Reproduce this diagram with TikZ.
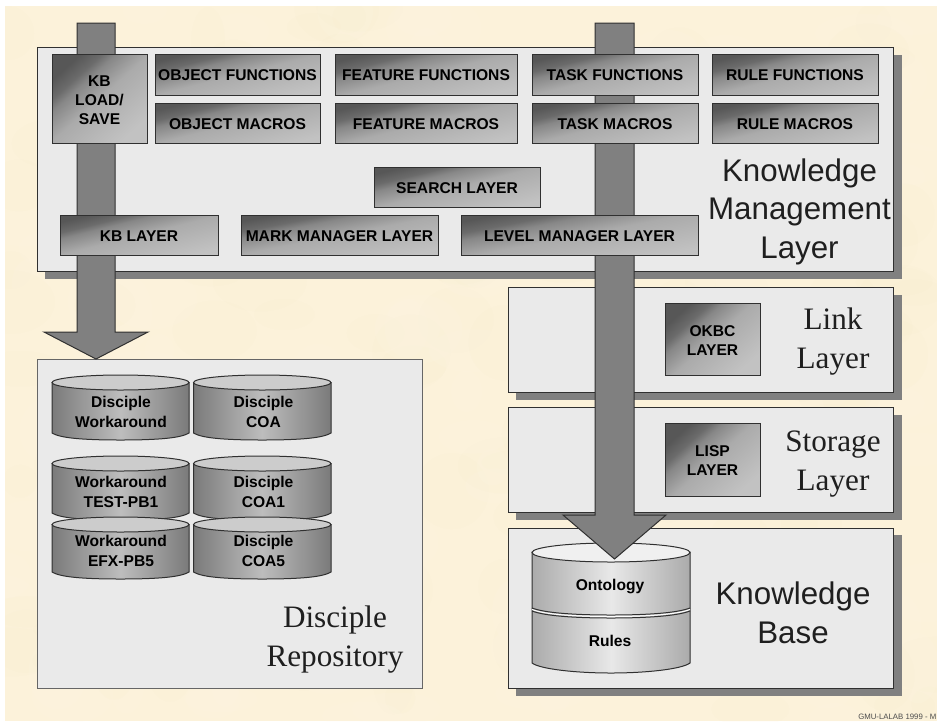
\documentclass[tikz,border=0pt]{standalone}
\usepackage{fontspec}
\setmainfont{Liberation Sans}
\newfontfamily\timesfont{Liberation Serif}
\definecolor{parch}{HTML}{FCF2DA}
\definecolor{blotA}{HTML}{F9E6BE}
\definecolor{blotB}{HTML}{FFFAEC}
\definecolor{panelc}{HTML}{EAEAEA}
\definecolor{shadowc}{HTML}{808080}
\definecolor{edge}{HTML}{303030}
\definecolor{inkc}{HTML}{000000}
\pgfdeclareverticalshading{boxshade}{100bp}{color(0bp)=(black!24); color(25bp)=(black!24); color(50bp)=(black!33); color(62bp)=(black!47); color(67bp)=(black!58); color(75bp)=(black!66); color(100bp)=(black!66)}
\tikzset{
  panel/.style={draw=edge,line width=1pt,fill=panelc},
  shadowbox/.style={fill=shadowc,draw=none},
  gbox/.style={draw=edge,line width=1pt,shading=boxshade,inner sep=0pt,align=center,text depth=0pt,
     font=\fontsize{15.6}{19}\selectfont\bfseries,text=inkc},
  wide/.style={gbox,shading angle=14,text height=12pt},
  wider/.style={gbox,shading angle=11,text height=12pt},
  square/.style={gbox,shading angle=42,text height=#1},
  blockarrow/.style={fill=shadowc,draw=edge,line width=1pt,line join=miter},
  sanslabel/.style={inner sep=0pt,align=center,anchor=base,text=black!88,font=\fontsize{31.3}{38.5}\selectfont},
  seriflabel/.style={inner sep=0pt,align=center,anchor=base,text=black!88,font=\fontsize{31.2}{38.5}\selectfont\timesfont},
  cyllabel/.style={inner sep=0pt,align=center,anchor=base,text=inkc,font=\fontsize{15.6}{19.2}\selectfont\bfseries},
  cylside/.style={draw=edge,line width=1pt,left color=#1,right color=#1,middle color=cylmid},
  cyltop/.style={draw=edge,line width=1pt,fill=#1},
}
\definecolor{cylmid}{HTML}{BDBDBD}
\newcommand{\smallcyl}[4]{% x0 x1 ytop ybot
  \path[cylside=black!52] (#1,#3+7.5) -- (#1,#4-7) .. controls (#1+8,#4-2) and (#1+30,#4) .. ({(#1+#2)/2},#4)
     .. controls (#2-30,#4) and (#2-8,#4-2) .. (#2,#4-7) -- (#2,#3+7.5) -- cycle;
  \draw[cyltop=black!20] ({(#1+#2)/2},#3+7.5) ellipse [x radius={(#2-#1)/2},y radius=7.5];
}
\begin{document}
\begin{tikzpicture}[x=1pt,y=-1pt]
\useasboundingbox (0,0) rectangle (937,721);
% parchment ground
\fill[parch] (5,6) rectangle (937,721);
\begin{scope}
\clip (5,6) rectangle (937,721);
\pgfmathsetseed{4711}
\foreach \i in {1,...,300}{
  \pgfmathsetmacro{\px}{5+932*rnd}
  \pgfmathsetmacro{\py}{6+715*rnd}
  \pgfmathsetmacro{\rx}{14+36*rnd}
  \pgfmathsetmacro{\ry}{12+26*rnd}
  \pgfmathsetmacro{\pick}{rnd}
  \ifdim\pick pt<0.5pt
    \fill[blotA,opacity=.07] (\px,\py) ellipse [x radius=\rx,y radius=\ry];
  \else
    \fill[blotB,opacity=.10] (\px,\py) ellipse [x radius=\rx,y radius=\ry];
  \fi
}
\end{scope}

% shadows
\fill[shadowbox] (45,55) rectangle (902,279);
\fill[shadowbox] (516,295) rectangle (902,400);
\fill[shadowbox] (516,415) rectangle (902,520);
\fill[shadowbox] (516,535) rectangle (902,696);

% panels
\draw[panel] (37,47) rectangle (893,271);
\draw[panel] (508,287) rectangle (893,392);
\draw[panel] (508,407) rectangle (893,512);
\draw[panel] (508,528) rectangle (893,688);
\draw[panel,draw=black!60] (37,359) rectangle (422,688);

% big cylinder
\path[draw=edge,line width=1pt,left color=black!33,right color=black!33,middle color=black!9]
  (532,552) -- (532,663) .. controls (540,669) and (575,673) .. (611,673) .. controls (647,673) and (682,669) .. (690,663) -- (690,552) -- cycle;
\draw[draw=edge,line width=1pt,fill=black!6] (611,552.5) ellipse [x radius=79,y radius=9.5];
\draw[edge,line width=1pt] (532,608) .. controls (545,613) and (575,615) .. (611,615) .. controls (647,615) and (677,613) .. (690,608);
\draw[white,line width=1pt] (532,609.5) .. controls (545,614.5) and (575,616.5) .. (611,616.5) .. controls (647,616.5) and (677,614.5) .. (690,609.5);
\draw[edge,line width=1pt] (532,611) .. controls (545,616) and (575,618) .. (611,618) .. controls (647,618) and (677,616) .. (690,611);
\node[cyllabel] (onto) at (610,590) {Ontology};
\node[cyllabel] (rules) at (610,646) {Rules};

% block arrows
\draw[blockarrow] (77,23) -- (115,23) -- (115,332) -- (148,332) -- (96,359) -- (44,332) -- (77,332) -- cycle;
\draw[blockarrow] (595,23) -- (634,23) -- (634,515) -- (666,515) -- (614.5,559) -- (563,515) -- (595,515) -- cycle;

% function boxes
\node[square=51pt,minimum width=95pt,minimum height=89pt] (kbload) at (99.5,98.5) {KB\\LOAD/\\SAVE};
\node[wide,minimum width=165pt,minimum height=41pt] (objf) at (237.5,74.5) {OBJECT FUNCTIONS};
\node[wide,minimum width=165pt,minimum height=40pt] (objm) at (237.5,123) {OBJECT MACROS};
\node[wide,minimum width=182pt,minimum height=41pt] (featf) at (426,74.5) {FEATURE FUNCTIONS};
\node[wide,minimum width=182pt,minimum height=40pt] (featm) at (426,123) {FEATURE MACROS};
\node[wide,minimum width=166pt,minimum height=41pt] (taskf) at (615,74.5) {TASK FUNCTIONS};
\node[wide,minimum width=166pt,minimum height=40pt] (taskm) at (615,123) {TASK MACROS};
\node[wide,minimum width=166pt,minimum height=41pt] (rulef) at (795,74.5) {RULE FUNCTIONS};
\node[wide,minimum width=166pt,minimum height=40pt] (rulem) at (795,123) {RULE MACROS};
\node[wide,minimum width=166pt,minimum height=40pt] (search) at (457,187) {SEARCH LAYER};
\node[wide,minimum width=158pt,minimum height=40pt] (kblayer) at (139,235) {KB LAYER};
\node[wider,minimum width=197pt,minimum height=40pt] (mark) at (339.5,235) {MARK MANAGER LAYER};
\node[wider,minimum width=237pt,minimum height=40pt] (level) at (579.5,235) {LEVEL MANAGER LAYER};
\node[square=32pt,minimum width=95pt,minimum height=72pt] (okbc) at (712.5,339) {OKBC\\LAYER};
\node[square=31pt,minimum width=95pt,minimum height=73pt] (lisp) at (712.5,459.5) {LISP\\LAYER};

% repository cylinders
\smallcyl{52}{189}{375}{440}
\smallcyl{193.5}{331}{375}{440}
\smallcyl{52}{189}{456}{520}
\smallcyl{193.5}{331}{456}{520}
\smallcyl{52}{189}{517}{579}
\smallcyl{193.5}{331}{517}{579}
\node[cyllabel] (c1) at (121,427) {Disciple\\Workaround};
\node[cyllabel] (c2) at (263.5,427) {Disciple\\COA};
\node[cyllabel] (c3) at (121,507) {Workaround\\TEST-PB1};
\node[cyllabel] (c4) at (263.5,507) {Disciple\\COA1};
\node[cyllabel] (c5) at (121,566) {Workaround\\EFX-PB5};
\node[cyllabel] (c6) at (263.5,566) {Disciple\\COA5};

% layer captions
\node[sanslabel] (kml) at (799.5,258) {Knowledge\\Management\\Layer};
\node[sanslabel] (kb) at (793,643) {Knowledge\\Base};
\node[seriflabel] (link) at (833,368) {Link\\Layer};
\node[seriflabel] (storage) at (833,490) {Storage\\Layer};
\node[seriflabel] (repo) at (335,666) {Disciple\\Repository};

\node[anchor=base east,inner sep=0pt,text=black!70,font=\fontsize{7.8}{9}\selectfont] (credit) at (936.5,719.5) {GMU-LALAB 1999 - M};
\end{tikzpicture}
\end{document}
